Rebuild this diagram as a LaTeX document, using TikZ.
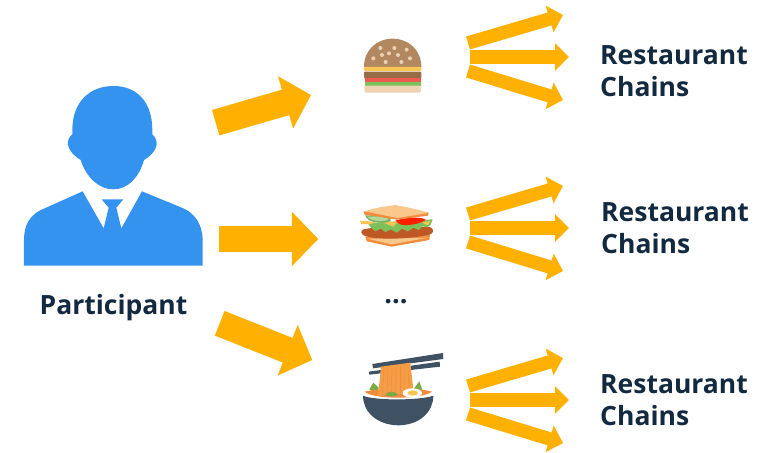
\documentclass[tikz,border=0pt]{standalone}
\usepackage{fontspec}
\setmainfont{Open Sans}
\usetikzlibrary{arrows.meta}
\definecolor{amber}{HTML}{FFB000}
\definecolor{navy}{HTML}{12293F}
\definecolor{pblue}{HTML}{3593F0}
\definecolor{bun}{RGB}{178,136,96}
\definecolor{seed}{RGB}{236,208,178}
\definecolor{cheese}{RGB}{250,196,84}
\definecolor{patty}{RGB}{150,108,70}
\definecolor{tomato}{RGB}{236,90,80}
\definecolor{leaf}{RGB}{124,192,90}
\definecolor{crumb}{RGB}{238,210,178}
\definecolor{crust}{RGB}{242,140,60}
\definecolor{bread}{RGB}{250,200,140}
\definecolor{fried}{RGB}{190,88,36}
\definecolor{bowl}{RGB}{62,82,100}
\definecolor{noodle}{RGB}{244,156,70}
\definecolor{noodleline}{RGB}{236,142,60}
\definecolor{herb}{RGB}{124,170,70}
\tikzset{
 bigarrow/.style={draw=amber,line width=26.5pt,-{Triangle[length=26.5pt,width=53pt,fill=amber]}},
 fanarrow/.style={draw=amber,line width=13.5pt,-{Triangle[length=14pt,width=27pt,fill=amber]}},
 lbl/.style={font=\bfseries\fontsize{26.5}{32}\selectfont,text=navy,align=left,anchor=west,inner sep=0pt},
 icon/.style={x=0.3333pt,y=-0.3333pt},
}
\newcommand{\fan}[2]{%
 \coordinate (#2t) at (468,#1-14);
 \coordinate (#2a) at (563,#1-42);
 \coordinate (#2m) at (470,#1);
 \coordinate (#2b) at (569,#1);
 \coordinate (#2c) at (468,#1+14);
 \coordinate (#2d) at (563,#1+43);
 \draw[fanarrow] (#2t) -- (#2a);
 \draw[fanarrow] (#2m) -- (#2b);
 \draw[fanarrow] (#2c) -- (#2d);
}
\begin{document}
\begin{tikzpicture}[x=1pt,y=-1pt]
\useasboundingbox (0,0) rectangle (770,452);
% person
\begin{scope}[shift={(10pt,-75pt)},icon]
\fill[pblue] (310,33) .. controls (240,33) and (187,80) .. (187,165) -- (187,178)
 .. controls (178,185) and (172,195) .. (174,210) .. controls (177,228) and (195,245) .. (212,255)
 .. controls (228,305) and (265,343) .. (310,343) .. controls (355,343) and (388,305) .. (402,255)
 .. controls (420,245) and (437,228) .. (440,210) .. controls (441,195) and (435,185) .. (427,178) -- (427,165)
 .. controls (427,80) and (380,33) .. (310,33) -- cycle;
\fill[pblue] (218,349) -- (281,460) -- (296,398) -- (275,373) -- (340,373) -- (319,398) -- (334,460) -- (396,349)
 -- (520,400) .. controls (555,415) and (578,450) .. (578,495) -- (578,572) -- (42,572) -- (42,495)
 .. controls (42,450) and (60,420) .. (95,404) -- cycle;
\end{scope}
\node[lbl,anchor=center] (participant) at (113.5,308) {Participant};
% big arrows
\coordinate (a1s) at (215.7,122.7); \coordinate (a1e) at (311,95);
\coordinate (a2s) at (218.5,239); \coordinate (a2e) at (318.3,239);
\coordinate (a3s) at (219.7,323.3); \coordinate (a3e) at (312.3,360);
\draw[bigarrow] (a1s) -- (a1e);
\draw[bigarrow] (a2s) -- (a2e);
\draw[bigarrow] (a3s) -- (a3e);
\fan{57}{f}
\fan{228}{g}
\fan{400}{h}
\node[lbl] (r1a) at (600,55) {Restaurant};
\node[lbl] (r1b) at (600,87) {Chains};
\node[lbl] (r2a) at (601,212) {Restaurant};
\node[lbl] (r2b) at (601,244) {Chains};
\node[lbl] (r3a) at (600,384) {Restaurant};
\node[lbl] (r3b) at (600,416) {Chains};
\node[text=navy,font=\bfseries\fontsize{27}{30}\selectfont,inner sep=0pt] (dots) at (396,302) {...};
% burger
\begin{scope}[shift={(340pt,-20pt)},icon]
\fill[bun] (72,141) .. controls (72,90) and (110,56) .. (158,56) .. controls (206,56) and (244,90) .. (244,141) -- cycle;
\foreach \p in {(121,84),(163,84),(200,89),(126,105),(147,100),(174,105),(100,115),(210,115),(137,126),(184,126)}
  \fill[seed] \p circle (6);
\fill[cheese,rounded corners=1pt] (72,141) rectangle (244,153);
\fill[patty,rounded corners=1pt] (72,155) rectangle (244,175);
\fill[tomato] (74,175) rectangle (242,186);
\fill[leaf] (74,186) rectangle (242,197);
\fill[crumb,rounded corners=2pt] (73,197) rectangle (243,218);
\end{scope}
% sandwich
\begin{scope}[shift={(340pt,-190pt)},icon]
% lower bread
\fill[crust] (76,140) -- (270,133) -- (268,150) -- (155,170) -- (80,154) -- cycle;
\fill[bread] (82,146) -- (264,143) -- (155,163) -- cycle;
% fried patty
\fill[fried] (70,118) .. controls (120,108) and (230,106) .. (272,112)
  .. controls (284,120) and (280,130) .. (268,134)
  .. controls (220,145) and (130,152) .. (78,139) .. controls (62,134) and (60,122) .. (70,118) -- cycle;
% lettuce
\fill[leaf] (84,100) -- (278,88) -- (272,104) -- (262,112) -- (248,108) -- (236,120) -- (220,113) -- (204,124) -- (186,116) -- (170,128) -- (152,118) -- (136,126) -- (122,116) -- (106,124) -- (92,112) -- cycle;
% cheese
\fill[cheese] (60,92) -- (110,96) -- (90,103) -- (64,102) -- cycle;
\fill[cheese] (125,96) -- (175,94) -- (160,110) -- cycle;
\fill[cheese] (245,96) -- (272,94) -- (262,106) -- cycle;
% cucumber
\fill[leaf!85!black!90] (76,76) .. controls (82,100) and (130,102) .. (152,94) -- (150,76) -- cycle;
\fill[leaf!60!white] (82,80) .. controls (92,94) and (125,96) .. (144,90) -- (142,78) -- cycle;
% tomato
\fill[red!75!orange] (166,92) .. controls (190,82) and (240,80) .. (257,88) .. controls (250,100) and (200,110) .. (180,103) -- cycle;
% top bread
\fill[crust] (71,65) -- (165,46) -- (266,68) -- (264,77) -- (172,89) -- (74,74) -- cycle;
\fill[bread] (74,64) .. controls (110,52) and (140,48) .. (165,46) .. controls (200,50) and (240,60) .. (265,69) -- (172,84) -- cycle;
\end{scope}
% noodle bowl
\begin{scope}[shift={(340pt,-340pt)},icon]
\fill[bowl] (87,95) -- (299,65) -- (300,80) -- (88,104) -- cycle;
\fill[bowl] (97,72) -- (309,39) -- (310,57) -- (99,85) -- cycle;
\fill[herb] (88,148) -- (100,128) -- (116,143) -- (110,162) -- cycle;
\fill[herb] (220,148) -- (238,124) -- (248,152) -- cycle;
\fill[crust] (74,155) .. controls (120,144) and (230,142) .. (276,155) .. controls (250,178) and (100,180) .. (74,155) -- cycle;
\fill[noodle] (122,80) -- (211,68) .. controls (215,100) and (218,135) .. (222,160) -- (112,168) .. controls (118,135) and (122,105) .. (122,80) -- cycle;
\foreach \i in {0,...,6} \draw[noodleline,line width=0.4pt] (132+\i*12,78) -- (128+\i*13,164);
\fill[herb] (136,163) .. controls (150,150) and (165,155) .. (174,164) .. controls (160,172) and (145,172) .. (136,163) -- cycle;
\fill[white] (217,159) ellipse (29 and 14);
\fill[cheese] (218,159) ellipse (16 and 8);
\fill[bowl] (69,167) .. controls (100,182) and (240,182) .. (280,167) .. controls (280,215) and (240,255) .. (175,256) .. controls (110,255) and (69,215) .. (69,167) -- cycle;
\end{scope}
\end{tikzpicture}
\end{document}
